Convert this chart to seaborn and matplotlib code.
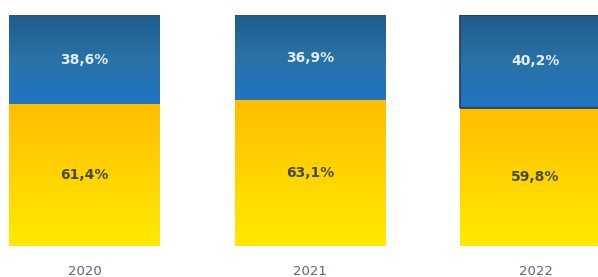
import numpy as np
import pandas as pd
import matplotlib
matplotlib.use("Agg")
import matplotlib.pyplot as plt
import seaborn as sns
from matplotlib.colors import LinearSegmentedColormap

# Data
years = ["2020", "2021", "2022"]
share_top = [38.6, 36.9, 40.2]      # blue segment
share_bottom = [61.4, 63.1, 59.8]   # yellow segment

df = pd.DataFrame({"year": years, "top": share_top, "bottom": share_bottom})
df["total"] = df["top"] + df["bottom"]

blue_cmap = LinearSegmentedColormap.from_list("blue", ["#2174c4", "#2a72a8", "#1f5c8b"])
yellow_cmap = LinearSegmentedColormap.from_list("yellow", ["#ffea00", "#ffd400", "#ffbe00"])

sns.set_style("white")
fig = plt.figure(figsize=(5.98, 2.77), dpi=100)
ax = fig.add_axes([0, 31 / 277, 1, 231 / 277])

# blue on top, yellow at the bottom
sns.barplot(data=df, x="year", y="total", color="#2470b0", saturation=1,
            width=0.667, ax=ax)
sns.barplot(data=df, x="year", y="bottom", color="#ffd000", saturation=1,
            width=0.667, ax=ax)

n = len(years)
blue_patches = ax.patches[:n]
yellow_patches = ax.patches[n:2 * n]

grad = np.linspace(0, 1, 256).reshape(-1, 1)

for i, (p, b, t) in enumerate(zip(blue_patches, share_bottom, share_top)):
    p.set_y(b)
    p.set_height(t)
    x0 = p.get_x()
    x1 = x0 + p.get_width()
    im = ax.imshow(grad, cmap=blue_cmap, aspect="auto", origin="lower",
                   extent=(x0, x1, b, b + t), zorder=2)
    im.set_clip_path(p)
    ax.text(x0 + p.get_width() / 2, b + t / 2,
            f"{t:.1f}".replace(".", ",") + "%", ha="center", va="center",
            fontsize=10, fontweight="bold", color="#e4eef6", zorder=4)

for p, b in zip(yellow_patches, share_bottom):
    x0 = p.get_x()
    x1 = x0 + p.get_width()
    im = ax.imshow(grad, cmap=yellow_cmap, aspect="auto", origin="lower",
                   extent=(x0, x1, 0, b), zorder=2)
    im.set_clip_path(p)
    ax.text(x0 + p.get_width() / 2, b / 2,
            f"{b:.1f}".replace(".", ",") + "%", ha="center", va="center",
            fontsize=10, fontweight="bold", color="#4a4a3c", zorder=4)

# the last bar is outlined (selected)
sel = blue_patches[-1]
sel.set_facecolor("none")
sel.set_edgecolor("#1d3a68")
sel.set_linewidth(1.2)
sel.set_zorder(3)

ax.set_xlim(-0.3756, 2.277)
ax.set_ylim(0, 100)
ax.set_xlabel("")
ax.set_ylabel("")
ax.set_yticks([])
ax.tick_params(axis="x", length=0, pad=14, labelsize=9.5, labelcolor="#5b6575")
sns.despine(ax=ax, left=True, bottom=True)

fig.savefig("out.png", dpi=100)
